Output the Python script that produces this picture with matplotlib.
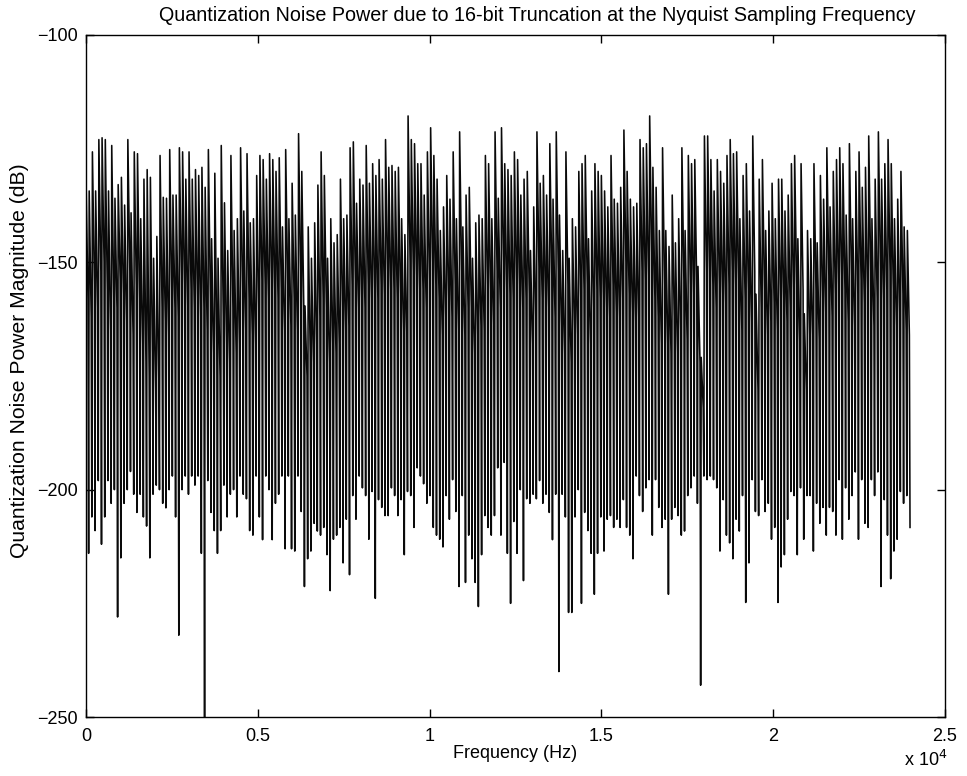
import numpy as np
import matplotlib
matplotlib.use("Agg")
import matplotlib.pyplot as plt

# Upper turning points (dB) of each tooth, left to right
peaks_db = [
    -130.9, -134.3, -125.7, -134.3, -123.0, -122.6, -123.0, -134.3, -124.3, -135.9,
    -132.9, -131.3, -137.4, -123.0, -139.1, -125.7, -126.1, -140.4, -131.7, -129.6,
    -131.3, -149.1, -144.3, -126.5, -135.7, -135.9, -125.2, -135.2, -135.2, -124.8,
    -125.7, -131.7,
    -125.7, -131.7, -129.6, -130.9, -129.1, -133.5, -125.2, -144.8, -130.4, -149.1,
    -124.3, -136.9, -147.4, -126.5, -143.0, -140.4, -124.8, -138.7, -126.1, -141.3,
    -140.4, -130.9, -126.5, -127.4, -131.7, -126.1, -127.4, -130.0, -127.0, -142.2,
    -125.2, -140.4,
    -132.6, -139.6, -121.7, -130.0, -159.6, -142.2, -149.1, -141.3, -133.0, -125.7,
    -130.9, -149.1, -140.4, -145.7, -143.9, -131.7, -140.4, -139.6, -124.8, -123.5,
    -137.0, -131.7, -133.0, -124.3, -132.6, -128.3, -130.9, -127.4, -131.7, -123.0,
    -129.1, -128.7,
    -130.0, -129.1, -140.4, -143.9, -117.8, -123.0, -123.9, -128.3, -128.3, -135.2,
    -125.7, -120.4, -126.5, -131.7, -143.0, -137.8, -130.9, -136.1, -125.7, -140.4,
    -121.3, -142.2, -135.2, -133.5, -149.1, -141.3, -139.6, -140.4, -126.5, -128.3,
    -140.4, -121.3,
    -135.9, -120.4, -128.3, -129.6, -130.9, -125.7, -127.4, -135.2, -131.7, -130.0,
    -147.4, -137.8, -121.3, -132.6, -130.9, -135.2, -123.9, -136.1, -121.3, -139.6,
    -147.4, -125.7, -149.1, -140.4, -142.2, -130.0, -128.3, -126.5, -144.8, -134.3,
    -128.3, -130.0,
    -130.9, -134.3, -137.8, -126.5, -136.1, -137.0, -133.5, -120.9, -130.0, -136.1,
    -137.8, -137.0, -123.0, -124.8, -123.9, -117.8, -129.1, -133.5, -143.0, -124.8,
    -143.0, -146.5, -135.2, -145.7, -140.4, -124.8, -143.0, -126.5, -128.3, -127.4,
    -150.9, -170.9, -122.2,
    -122.2, -127.4, -134.3, -127.4, -130.0, -132.6, -126.5, -123.0, -126.1, -125.7,
    -140.4, -130.9, -128.3, -138.7, -122.2, -157.0, -131.7, -127.4, -143.0, -138.7,
    -132.6, -140.4, -131.7, -131.7, -138.7, -135.2, -128.3, -126.5, -144.8, -128.3,
    -161.3, -143.0,
    -144.8, -128.3, -145.7, -130.9, -136.1, -124.8, -137.8, -130.0, -127.4, -124.8,
    -128.3, -139.6, -123.9, -140.4, -130.0, -125.7, -133.5, -129.1, -122.2, -140.4,
    -131.7, -121.3, -131.7, -128.3, -123.0, -128.3, -140.4, -136.1, -130.0, -142.2,
    -143.0,
]

# Lower edge of the dense upper band (dB) within each tooth
shoulders_db = [
    -158, -162, -155, -160, -152, -150, -156, -165, -158, -160,
    -154, -157, -163, -152, -166, -155, -158, -168, -172, -175,
    -170, -178, -176, -160, -163, -166, -156, -160, -162, -153,
    -155, -160,
    -156, -160, -158, -162, -160, -165, -158, -170, -168, -175,
    -162, -168, -172, -160, -170, -168, -156, -165, -158, -166,
    -168, -160, -154, -155, -158, -154, -156, -158, -156, -165,
    -155, -164,
    -158, -165, -152, -160, -175, -170, -172, -168, -162, -158,
    -160, -172, -168, -170, -168, -160, -165, -164, -155, -154,
    -160, -158, -160, -155, -158, -156, -158, -155, -157, -152,
    -156, -156,
    -158, -157, -165, -166, -150, -152, -153, -156, -156, -160,
    -154, -150, -155, -158, -166, -162, -158, -162, -155, -165,
    -152, -166, -160, -160, -170, -166, -164, -165, -155, -156,
    -164, -152,
    -160, -150, -156, -157, -158, -154, -155, -160, -158, -157,
    -168, -162, -151, -158, -158, -160, -153, -162, -152, -164,
    -170, -155, -172, -165, -166, -158, -156, -155, -168, -160,
    -156, -158,
    -158, -160, -162, -155, -161, -162, -158, -150, -157, -161,
    -163, -162, -152, -154, -153, -148, -158, -162, -168, -155,
    -168, -170, -162, -170, -165, -154, -167, -155, -157, -156,
    -172, -182, -152,
    -152, -155, -160, -155, -157, -159, -155, -152, -155, -154,
    -165, -158, -156, -163, -152, -178, -160, -156, -166, -163,
    -159, -165, -158, -158, -163, -160, -156, -155, -168, -156,
    -178, -166,
    -166, -156, -167, -158, -161, -153, -162, -157, -155, -153,
    -156, -163, -153, -164, -157, -154, -159, -156, -152, -164,
    -158, -151, -158, -156, -152, -156, -164, -161, -157, -165,
    -166,
]

# Lower turning points (dB) of each tooth, left to right
troughs_db = [
    -214, -206, -209, -198, -212, -206, -198, -203, -200, -228,
    -215, -203, -200, -196, -201, -205, -201, -206, -208, -215,
    -201, -199, -200, -203, -204, -200, -197, -206, -232, -200,
    -197, -201,
    -197, -199, -197, -214, -250, -198, -205, -209, -214, -209,
    -199, -206, -201, -200, -206, -197, -201, -202, -209, -210,
    -197, -206, -211, -197, -200, -211, -203, -201, -197, -213,
    -197, -213,
    -213.5, -197.0, -204.8, -221.3, -215.2, -213.5, -207.4, -209.1, -210.0, -208.3,
    -214.3, -222.2, -210.9, -210.0, -208.3, -216.1, -206.5, -218.7, -201.3, -206.5,
    -197.0, -199.6, -201.3, -210.9, -200.4, -223.9, -202.2, -203.9, -205.7, -205.7,
    -199.6, -201.3,
    -205.7, -202.2, -214.3, -200.4, -201.3, -208.3, -195.2, -197.0, -198.7, -203.0,
    -201.3, -208.3, -210.0, -210.9, -212.6, -201.3, -206.5, -197.8, -204.8, -221.3,
    -201.3, -220.4, -210.0, -215.2, -220.4, -225.7, -214.3, -205.7, -208.3, -210.0,
    -205.7, -195.2,
    -210, -194, -214, -225, -207, -214, -200, -220, -202, -203,
    -201, -202, -198, -203, -201, -205, -211, -201, -240, -201,
    -206, -227, -227, -206, -200, -225, -205, -209, -214, -223,
    -214, -206,
    -213.5, -206.5, -205.7, -208.3, -206.5, -208.3, -202.2, -208.3, -210.0, -215.2,
    -197.0, -201.3, -204.8, -199.6, -197.8, -210.0, -197.8, -203.9, -208.3, -206.5,
    -223.0, -206.5, -203.9, -205.7, -210.0, -209.1, -201.3, -199.6, -197.0, -203.0,
    -243.0, -197.0, -197.8,
    -197.0, -197.8, -199.6, -213.5, -202.2, -210.0, -211.7, -215.2, -206.5, -209.1,
    -201.3, -224.8, -216.1, -197.8, -204.8, -205.7, -197.8, -204.8, -203.0, -210.9,
    -208.3, -224.8, -217.0, -214.3, -206.5, -200.4, -201.3, -214.3, -199.6, -210.9,
    -201.3, -201.3,
    -213.5, -203.0, -207.4, -203.9, -210.0, -203.9, -204.8, -210.0, -197.8, -210.9,
    -199.6, -206.5, -201.3, -196.1, -210.9, -197.8, -207.4, -208.3, -197.8, -201.3,
    -196.1, -221.3, -202.2, -210.0, -219.6, -213.5, -210.9, -200.4, -203.0, -201.3,
    -208.3,
]

f_start_hz = 0.0
f_stop_hz = 24000.0

x_ticks = [0, 5000, 10000, 15000, 20000, 25000]
x_tick_labels = ["0", "0.5", "1", "1.5", "2", "2.5"]
y_ticks = [-250, -200, -150, -100]

# Build the trace: each tooth goes peak -> shoulder -> (narrow) trough
n = min(len(peaks_db), len(shoulders_db), len(troughs_db))
period = (f_stop_hz - f_start_hz) / n
tooth_start = f_start_hz + period * np.arange(n)
phase = np.array([0.0, 0.62, 0.82])
freq = (tooth_start[:, None] + phase[None, :] * period).ravel()
y = np.column_stack([peaks_db[:n], shoulders_db[:n], troughs_db[:n]]).ravel()

plt.rcParams['font.family'] = ['Liberation Sans', 'DejaVu Sans']

fig = plt.figure(figsize=(9.67, 7.76), dpi=100)
ax = fig.add_axes([0.0889, 0.076, 0.9772 - 0.0889, 0.9549 - 0.076])
ax.plot(freq, y, color='#0a0a0a', linewidth=1.15)

ax.set_xlim(0, 25000)
ax.set_ylim(-250, -100)
ax.set_xticks(x_ticks)
ax.set_xticklabels(x_tick_labels)
ax.set_yticks(y_ticks)
ax.tick_params(direction='in', top=True, right=True, length=6, width=1, labelsize=13)
ax.tick_params(axis='x', pad=8)
ax.tick_params(axis='y', pad=6)
for s in ax.spines.values():
    s.set_linewidth(1.0)

ax.set_title("Quantization Noise Power due to 16-bit Truncation at the Nyquist Sampling Frequency",
             fontsize=14.2, pad=10, x=0.5 + 22 / 859)
ax.set_xlabel("Frequency (Hz)", fontsize=13, labelpad=0)
ax.set_ylabel("Quantization Noise Power Magnitude (dB)", fontsize=15.2, labelpad=2)
ax.yaxis.set_label_coords(-0.066, 0.523)
fig.text(0.935, 0.008, r"x 10$^{4}$", fontsize=13, ha='left', va='bottom')

fig.savefig("out.png", dpi=100)
